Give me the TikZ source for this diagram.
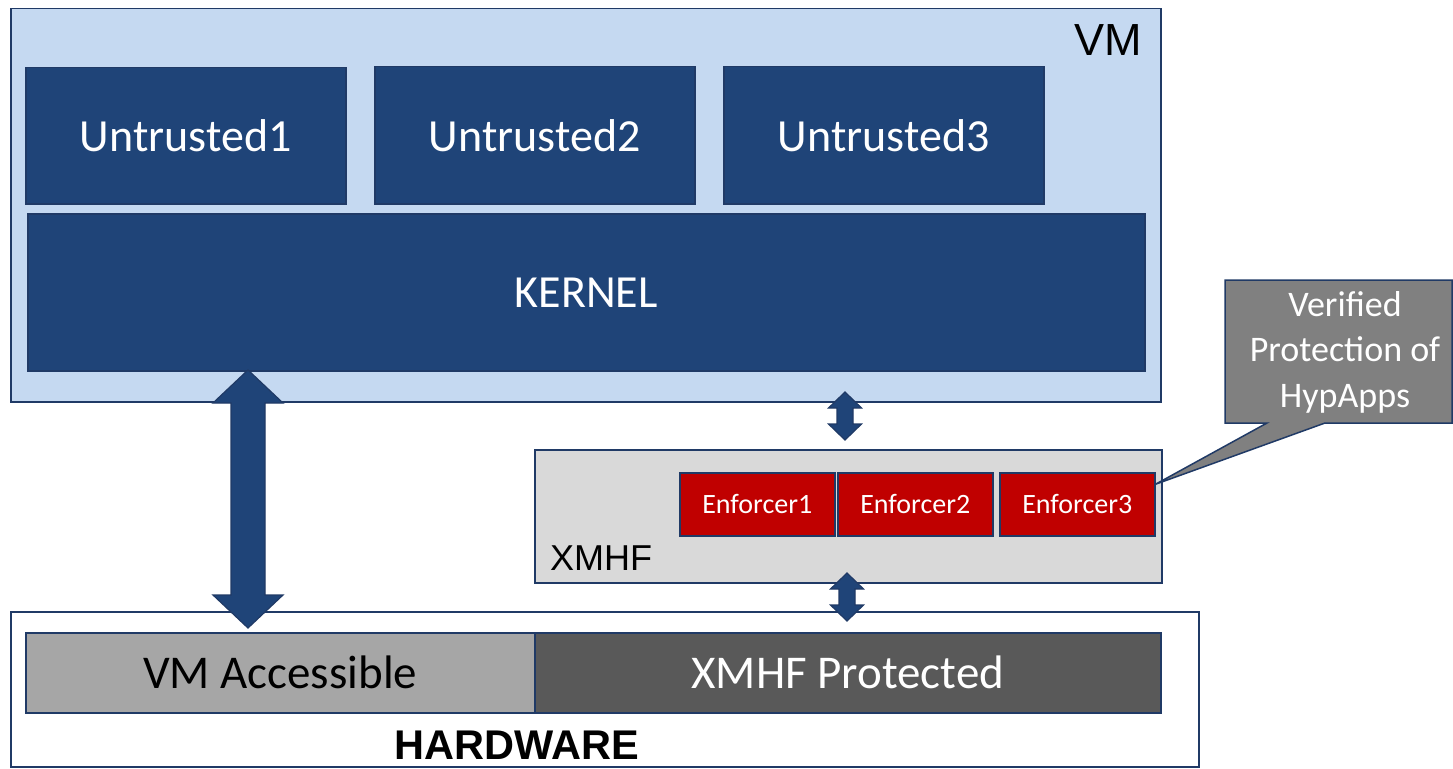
\documentclass[tikz,border=0pt]{standalone}
\usepackage{fontspec}
\setmainfont{Carlito}
\newfontfamily\arialf{Liberation Sans}
\definecolor{vmfill}{HTML}{C5D9F1}
\definecolor{dblue}{HTML}{1F4478}
\definecolor{edge}{HTML}{203A66}
\definecolor{efill}{HTML}{C00000}
\definecolor{xfill}{HTML}{D9D9D9}
\definecolor{gacc}{HTML}{A6A6A6}
\definecolor{gprot}{HTML}{595959}
\definecolor{gcall}{HTML}{808080}
\tikzset{
  x=1pt, y=-1pt,
  rbox/.style={draw=edge, line width=1.5pt, anchor=north west, inner sep=0pt, rectangle},
  ubox/.style={rbox, fill=dblue, text=white, font=\fontsize{46}{50}\selectfont},
  ebox/.style={rbox, fill=efill, text=white, font=\fontsize{28}{32}\selectfont},
  blockarrow/.style={fill=dblue, draw=edge, line width=1.2pt, line join=miter},
  lbl/.style={inner sep=0pt, text=black}
}
\newcommand{\myblockarrow}[6]{% cx, ytop, ybottom, shaft half, head half, head length
  \path[blockarrow] (#1,#2) -- (#1+#5,#2+#6) -- (#1+#4,#2+#6) -- (#1+#4,#3-#6) -- (#1+#5,#3-#6)
     -- (#1,#3) -- (#1-#5,#3-#6) -- (#1-#4,#3-#6) -- (#1-#4,#2+#6) -- (#1-#5,#2+#6) -- cycle;}
\begin{document}
\begin{tikzpicture}
\useasboundingbox (0,0) rectangle (1453,768);
% VM
\node[rbox, fill=vmfill, minimum width=1150, minimum height=393] (vm) at (10,8) {};
\node[lbl, font=\arialf\fontsize{45}{50}\selectfont] (vmlbl) at (1108,40) {VM};
\node[ubox, minimum width=320, minimum height=136] (u1) at (25,67) {Untrusted1};
\node[ubox, minimum width=320, minimum height=137] (u2) at (374,66) {Untrusted2};
\node[ubox, minimum width=320, minimum height=137] (u3) at (723,66) {Untrusted3};
\node[ubox, minimum width=1117, minimum height=157] (kernel) at (27,213) {KERNEL};
% XMHF
\node[rbox, fill=xfill, minimum width=627, minimum height=133] (xmhf) at (534,449) {};
\node[lbl, font=\arialf\fontsize{36}{40}\selectfont] (xlbl) at (601,558) {XMHF};
\node[ebox, minimum width=155, minimum height=63] (e1) at (679,472) {Enforcer1};
\node[ebox, minimum width=155, minimum height=63] (e2) at (837,472) {Enforcer2};
\node[ebox, minimum width=155, minimum height=63] (e3) at (999,472) {Enforcer3};
% Hardware
\node[rbox, fill=white, minimum width=1188, minimum height=155] (hw) at (10,611) {};
\node[rbox, fill=gacc, minimum width=509, minimum height=80, font=\fontsize{47}{50}\selectfont] (acc) at (25,632) {VM Accessible};
\node[rbox, fill=gprot, text=white, minimum width=626, minimum height=80, font=\fontsize{47}{50}\selectfont] (prot) at (534,632) {XMHF Protected};
\node[lbl, font=\arialf\bfseries\fontsize{41.5}{45}\selectfont] (hwlbl) at (517,745) {HARDWARE};
% arrows
\myblockarrow{248}{370}{628}{17}{35}{33}
\myblockarrow{845}{392}{440}{8}{16.5}{16}
\myblockarrow{847}{573}{621}{8}{16.5}{16}
% callout
\coordinate (tip) at ([yshift=20pt]e3.east);
\path[fill=gcall, draw=edge, line width=1.5pt, line join=miter]
  (1225,280) -- (1452,280) -- (1452,423) -- (1325,423) -- (tip) -- (1267,423) -- (1225,423) -- cycle;
\node[lbl, text=white, align=center, font=\fontsize{36}{45.5}\selectfont] (call) at (1345,352) {Verified\\Protection of\\HypApps};
\end{tikzpicture}
\end{document}
